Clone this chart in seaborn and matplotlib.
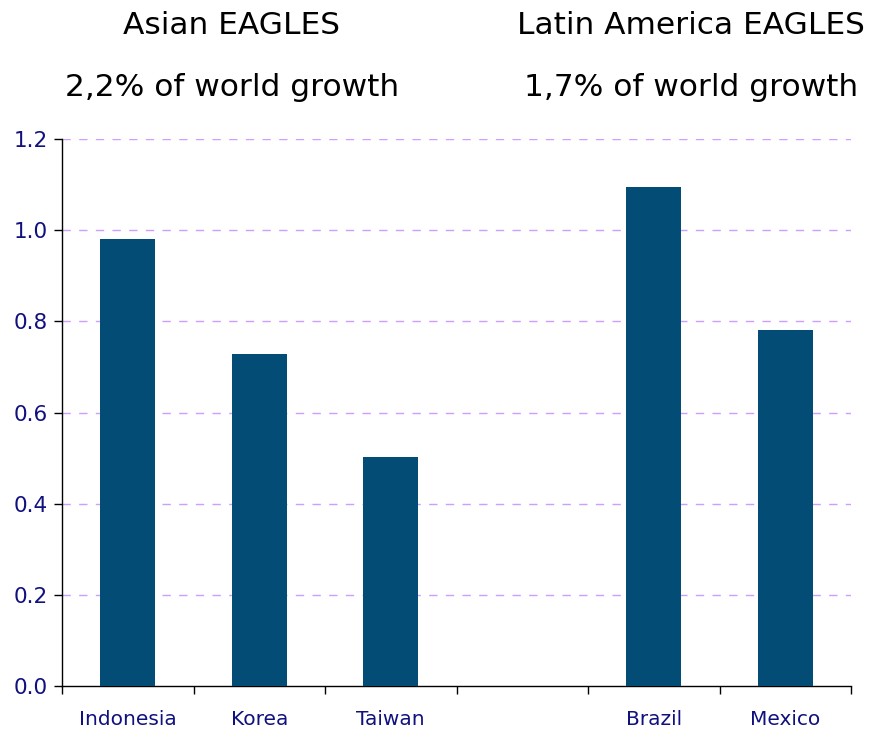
import matplotlib
matplotlib.use("Agg")
import matplotlib.pyplot as plt
import seaborn as sns
import pandas as pd
import numpy as np

countries = ["Indonesia", "Korea", "Taiwan", "", "Brazil", "Mexico"]
growth = [0.98, 0.728, 0.502, np.nan, 1.095, 0.781]
yticks = [0.0, 0.2, 0.4, 0.6, 0.8, 1.0, 1.2]
group_titles = [("Asian EAGLES", "2,2% of world growth"),
                ("Latin America EAGLES", "1,7% of world growth")]

sns.set_theme(style="white")
plt.rcParams["font.family"] = ["DejaVu Sans"]

navy = "#10107f"
bar_color = "#034c75"
grid_color = "#cc9eff"

df = pd.DataFrame({"country": countries, "growth": growth})

fig = plt.figure(figsize=(8.69, 7.33), dpi=100)
ax = fig.add_axes([62 / 869, 1 - 686 / 733, (851 - 62) / 869, (686 - 139) / 733])

sns.barplot(data=df, x="country", y="growth", order=countries,
            color=bar_color, saturation=1, width=0.42, ax=ax, zorder=3,
            linewidth=0, edgecolor=bar_color)

ax.set_xlim(-0.5, len(countries) - 0.5)
ax.set_ylim(0, 1.2)
ax.set_yticks(yticks)
ax.set_yticklabels([f"{v:.1f}" for v in yticks], color=navy, fontsize=15.5)
ax.set_xlabel("")
ax.set_ylabel("")

# category labels sit between boundary ticks
ax.set_xticks(np.arange(-0.5, len(countries), 1.0))
ax.set_xticklabels([])
ax.set_xticks(np.arange(len(countries)), minor=True)
ax.set_xticklabels(countries, minor=True, color=navy, fontsize=14.5)
ax.tick_params(axis="x", which="major", length=6, width=1, color="black", direction="out", bottom=True)
ax.tick_params(axis="x", which="minor", length=0, pad=17)
ax.tick_params(axis="y", length=6, width=1, color="black", direction="out", left=True, pad=4)

for v in yticks[1:]:
    ax.axhline(v, color=grid_color, lw=1.0, ls=(0, (6, 6)), zorder=1)

for s in ["top", "right"]:
    ax.spines[s].set_visible(False)
for s in ["left", "bottom"]:
    ax.spines[s].set_color("black")
    ax.spines[s].set_linewidth(1.0)

for (title, sub), xc in zip(group_titles, [232 / 869, 691 / 869]):
    fig.text(xc, 1 - 25 / 733, title, ha="center", va="center", fontsize=22.5, color="black")
    fig.text(xc, 1 - 87 / 733, sub, ha="center", va="center", fontsize=22.5, color="black")

fig.savefig("out.png", dpi=100)
